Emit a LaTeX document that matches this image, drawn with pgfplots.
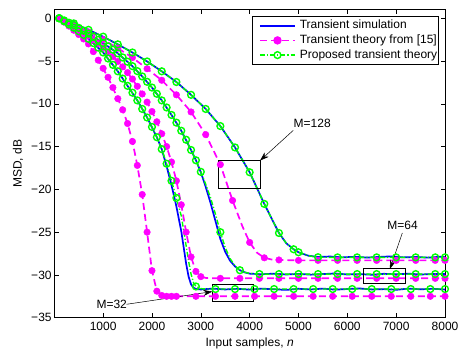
\documentclass[border=0pt]{standalone}
\usepackage{fontspec}
\setmainfont{Liberation Sans}
\usepackage{pgfplots}
\pgfplotsset{compat=1.18}
\usetikzlibrary{arrows.meta}
\definecolor{sblue}{rgb}{0,0,1}
\definecolor{smag}{rgb}{1,0,1}
\definecolor{sgreen}{rgb}{0,1,0}
\newcommand{\fs}{\fontsize{12}{14}\selectfont}
\tikzset{
  simline/.style={sblue, line width=1.7pt},
  oldline/.style={smag, line width=1.7pt, dash pattern=on 7pt off 4pt},
  oldmark/.style={smag, only marks, mark=*, mark size=3.3pt, mark options={solid, fill=smag, draw=smag}},
  newline/.style={sgreen, line width=1.4pt, dash pattern=on 5pt off 2pt on 1.2pt off 2pt},
  newmark/.style={sgreen, only marks, mark=o, mark size=3.4pt, mark options={solid, line width=1.4pt}},
}
\begin{document}
\fs
\begin{tikzpicture}
\begin{axis}[
  at={(0,0)}, anchor=south west,
  scale only axis, width=390.7pt, height=308pt,
  xmin=0, xmax=8000, ymin=-35, ymax=1,
  xtick={1000,2000,3000,4000,5000,6000,7000,8000},
  xticklabels={1000,2000,3000,4000,5000,6000,7000,8000},
  ytick={-35,-30,-25,-20,-15,-10,-5,0},
  yticklabels={−35,−30,−25,−20,−15,−10,−5,0},
  tick align=inside, major tick length=4.5pt,
  tick style={black, line width=0.5pt},
  axis line style={black, line width=0.6pt},
  ticklabel style={font=\fs},
  yticklabel style={inner xsep=2.5pt},
  xlabel={Input samples, \textit{n}}, ylabel={MSD, dB},
  label style={font=\fs},
  xlabel style={at={(axis description cs:0.5,-0.082)}, anchor=center},
  ylabel style={at={(axis description cs:-0.093,0.5)}, anchor=center},
  legend style={at={(rel axis cs:1,1)}, anchor=north east, xshift=-5.7pt, yshift=-6.3pt,
    draw=black, line width=0.9pt, font=\fs,
    inner xsep=0.6pt, inner ysep=2.4pt, row sep=1pt,
    nodes={inner sep=1pt, text height=9pt, text depth=2.7pt},
    /tikz/every odd column/.append style={column sep=3pt}},
  legend cell align=left,
  legend image code/.code={\path (-6pt,0pt); \draw[mark repeat=2,mark phase=2,#1] plot coordinates {(0pt,0pt) (17.5pt,0pt) (35pt,0pt)};},
]
% ---------- simulation (blue) ----------
\addplot[simline, forget plot] coordinates {
(100,0) (400,-0.6) (700,-1.35) (1000,-2.15) (1300,-3.05) (1600,-4.0) (1900,-5.05) (2200,-6.2) (2500,-7.45) (2800,-8.95) (3100,-10.6) (3400,-12.6) (3700,-15.1) (4000,-18.0) (4300,-21.7) (4600,-25.1) (4750,-26.3) (4900,-27.0) (5000,-27.35) (5200,-27.75) (5400,-27.9) (5650,-27.85) (5900,-27.95) (6150,-27.88) (6400,-27.97) (6650,-27.9) (6900,-27.83) (7150,-27.95) (7400,-27.9) (7650,-27.98) (7900,-27.88) (8000,-27.92)};
\addplot[simline, forget plot] coordinates {
(100,0) (400,-0.8) (700,-1.8) (1000,-2.9) (1300,-4.1) (1600,-5.6) (1800,-6.8) (2000,-8.1) (2200,-9.6) (2400,-11.3) (2600,-13.15) (2800,-15.4) (2900,-16.6) (3000,-18.0) (3100,-19.7) (3200,-21.6) (3300,-23.7) (3400,-25.8) (3500,-27.3) (3600,-28.35) (3700,-29.0) (3800,-29.45) (3900,-29.7) (4000,-29.85) (4250,-29.92) (4500,-29.85) (4750,-29.95) (5000,-29.88) (5250,-29.97) (5500,-29.9) (5750,-29.83) (6000,-29.95) (6250,-29.9) (6500,-29.98) (6750,-29.87) (7000,-29.93) (7250,-29.85) (7500,-29.95) (7750,-29.9) (8000,-29.88)};
\addplot[simline, forget plot] coordinates {
(100,0) (400,-1.1) (700,-2.4) (1000,-4.0) (1300,-6.2) (1500,-7.9) (1700,-9.6) (1900,-11.6) (2100,-13.9) (2200,-15.3) (2300,-17.3) (2400,-19.5) (2500,-22.0) (2600,-24.9) (2700,-28.7) (2750,-30.2) (2800,-31.1) (2850,-31.5) (2900,-31.65) (3000,-31.7) (3250,-31.6) (3500,-31.7) (3750,-31.62) (4000,-31.72) (4250,-31.6) (4500,-31.68) (4750,-31.75) (5000,-31.62) (5250,-31.7) (5500,-31.6) (5750,-31.72) (6000,-31.65) (6250,-31.58) (6500,-31.7) (6750,-31.66) (7000,-31.74) (7250,-31.6) (7500,-31.68) (7750,-31.62) (8000,-31.7)};
% ---------- theory from [15] (magenta) ----------
\addplot[oldline, forget plot] coordinates {
(100,0) (400,-0.7) (700,-1.6) (1000,-2.5) (1300,-3.5) (1600,-4.6) (1900,-5.9) (2200,-7.25) (2500,-8.95) (2800,-10.95) (3100,-13.6) (3400,-17.1) (3650,-21.3) (3850,-24.3) (4000,-26.2) (4150,-27.4) (4300,-28.0) (4450,-28.2) (4600,-28.25) (5000,-28.3) (8000,-28.3)};
\addplot[oldmark, forget plot] coordinates {
(100,0) (400,-0.7) (700,-1.6) (1000,-2.5) (1300,-3.5) (1600,-4.6) (1900,-5.9) (2200,-7.25) (2500,-8.95) (2800,-10.95) (3100,-13.6) (3400,-17.1) (3650,-21.3) (4000,-26.2) (4300,-28.0) (4600,-28.25) (5000,-28.3) (5400,-28.3) (5800,-28.3) (6200,-28.3) (6600,-28.3) (7000,-28.3) (7400,-28.3) (7800,-28.3) (8000,-28.3)};
\addplot[oldline, forget plot] coordinates {
(100,0) (400,-0.95) (700,-2.08) (1000,-3.42) (1300,-5.05) (1500,-6.35) (1700,-7.95) (1800,-8.85) (1900,-9.8) (2000,-10.9) (2100,-12.1) (2200,-13.5) (2300,-15.0) (2400,-16.8) (2500,-19.0) (2600,-21.8) (2700,-25.0) (2800,-27.9) (2900,-29.6) (3000,-30.2) (3100,-30.35) (3200,-30.4) (8000,-30.4)};
\addplot[oldmark, forget plot] coordinates {
(100,0) (200,-0.3) (300,-0.62) (400,-0.95) (500,-1.3) (600,-1.68) (700,-2.08) (800,-2.5) (900,-2.95) (1000,-3.42) (1100,-3.92) (1200,-4.47) (1300,-5.05) (1400,-5.68) (1500,-6.35) (1600,-7.1) (1700,-7.95) (1800,-8.85) (1900,-9.8) (2000,-10.9) (2100,-12.1) (2200,-13.5) (2300,-15.0) (2400,-16.8) (2500,-19.0) (2600,-21.8) (2700,-25.0) (2800,-27.9) (2900,-29.6) (3000,-30.2) (3400,-30.4) (3800,-30.4) (4200,-30.4) (4600,-30.4) (5000,-30.4) (5400,-30.4) (5800,-30.4) (6200,-30.4) (6600,-30.4) (7000,-30.4) (7400,-30.4) (7800,-30.4) (8000,-30.4)};
\addplot[oldline, forget plot] coordinates {
(100,0) (300,-0.92) (500,-1.9) (700,-3.0) (900,-4.9) (1100,-6.9) (1300,-9.4) (1400,-10.7) (1500,-12.3) (1600,-14.4) (1700,-17.2) (1800,-20.6) (1900,-25.0) (2000,-29.5) (2100,-31.9) (2200,-32.4) (2300,-32.5) (8000,-32.5)};
\addplot[oldmark, forget plot] coordinates {
(100,0) (200,-0.45) (300,-0.92) (400,-1.4) (500,-1.9) (600,-2.42) (700,-3.0) (800,-3.9) (900,-4.9) (1000,-5.85) (1100,-6.9) (1200,-8.1) (1300,-9.4) (1400,-10.7) (1500,-12.3) (1600,-14.4) (1700,-17.2) (1800,-20.6) (1900,-25.0) (2000,-29.5) (2100,-31.9) (2200,-32.4) (2300,-32.5) (2400,-32.5) (2500,-32.5) (2900,-32.5) (3300,-32.5) (3700,-32.5) (4100,-32.5) (4500,-32.5) (4900,-32.5) (5300,-32.5) (5700,-32.5) (6100,-32.5) (6500,-32.5) (6900,-32.5) (7300,-32.5) (7700,-32.5) (8000,-32.5)};
% ---------- proposed theory (green) ----------
\addplot[newline, forget plot] coordinates {
(100,0) (400,-0.6) (700,-1.35) (1000,-2.15) (1300,-3.05) (1600,-4.0) (1900,-5.05) (2200,-6.2) (2500,-7.45) (2800,-8.95) (3100,-10.6) (3400,-12.6) (3700,-15.1) (4000,-18.0) (4300,-21.7) (4600,-25.1) (4750,-26.3) (4900,-27.0) (5000,-27.35) (5200,-27.75) (5400,-27.93) (5800,-27.95) (8000,-27.95)};
\addplot[newmark, forget plot] coordinates {
(100,0) (400,-0.6) (700,-1.35) (1000,-2.15) (1300,-3.05) (1600,-4.0) (1900,-5.05) (2200,-6.2) (2500,-7.45) (2800,-8.95) (3100,-10.6) (3400,-12.6) (3700,-15.1) (4000,-18.0) (4300,-21.7) (4600,-25.1) (4900,-27.0) (5000,-27.35) (5400,-27.93) (5800,-27.95) (6200,-27.95) (6600,-27.95) (7000,-27.95) (7400,-27.95) (7800,-27.95) (8000,-27.95)};
\addplot[newline, forget plot] coordinates {
(100,0) (400,-0.8) (700,-1.8) (1000,-2.9) (1300,-4.1) (1600,-5.6) (1800,-6.8) (2000,-8.1) (2200,-9.6) (2400,-11.3) (2600,-13.15) (2800,-15.4) (2900,-16.6) (3000,-17.95) (3100,-19.4) (3200,-21.0) (3300,-22.9) (3400,-25.0) (3500,-26.8) (3600,-28.1) (3700,-28.95) (3800,-29.45) (3900,-29.7) (4000,-29.82) (4200,-29.9) (8000,-29.9)};
\addplot[newmark, forget plot] coordinates {
(100,0) (200,-0.25) (300,-0.52) (400,-0.8) (500,-1.12) (600,-1.45) (700,-1.8) (800,-2.15) (900,-2.52) (1000,-2.9) (1100,-3.28) (1200,-3.68) (1300,-4.1) (1400,-4.58) (1500,-5.08) (1600,-5.6) (1700,-6.18) (1800,-6.8) (1900,-7.43) (2000,-8.1) (2100,-8.83) (2200,-9.6) (2300,-10.43) (2400,-11.3) (2500,-12.2) (2600,-13.15) (2700,-14.2) (2800,-15.4) (2900,-16.6) (3000,-17.95) (3400,-25.0) (3800,-29.45) (4200,-29.9) (4600,-29.9) (5000,-29.9) (5400,-29.9) (5800,-29.9) (6200,-29.9) (6600,-29.9) (7000,-29.9) (7400,-29.9) (7800,-29.9) (8000,-29.9)};
\addplot[newline, forget plot] coordinates {
(100,0) (400,-1.1) (700,-2.4) (1000,-4.0) (1300,-6.2) (1500,-7.9) (1700,-9.6) (1900,-11.6) (2100,-13.9) (2200,-15.3) (2300,-17.0) (2400,-19.0) (2500,-21.0) (2600,-23.1) (2700,-26.6) (2750,-28.4) (2800,-29.9) (2850,-30.9) (2900,-31.35) (3000,-31.6) (3100,-31.65) (8000,-31.65)};
\addplot[newmark, forget plot] coordinates {
(100,0) (200,-0.35) (300,-0.72) (400,-1.1) (500,-1.52) (600,-1.95) (700,-2.4) (800,-2.9) (900,-3.43) (1000,-4.0) (1100,-4.7) (1200,-5.45) (1300,-6.2) (1400,-7.05) (1500,-7.9) (1600,-8.7) (1700,-9.6) (1800,-10.6) (1900,-11.6) (2000,-12.7) (2100,-13.9) (2200,-15.3) (2300,-17.0) (2400,-19.0) (2500,-21.0) (2900,-31.35) (3300,-31.65) (3700,-31.65) (4100,-31.65) (4500,-31.65) (4900,-31.65) (5300,-31.65) (5700,-31.65) (6100,-31.65) (6500,-31.65) (6900,-31.65) (7300,-31.65) (7700,-31.65) (8000,-31.65)};
% ---------- legend ----------
\addlegendimage{simline}
\addlegendimage{oldline, mark=*, mark size=3.3pt, mark options={solid, fill=smag}}
\addlegendimage{newline, mark=o, mark size=3.4pt, mark options={solid, line width=1.4pt}}
\legend{Transient simulation, Transient theory from [15], Proposed transient theory}
% ---------- annotations ----------
\draw[black, line width=0.5pt] (axis cs:3360,-16.6) rectangle (axis cs:4210,-19.9);
\draw[black, line width=0.5pt, -{Stealth[length=9pt,width=6pt]}] (axis cs:4894,-13.1) -- (axis cs:4212,-16.64);
\node[font=\fs] at (axis cs:5281,-12.3) {M=128};
\draw[black, line width=0.5pt] (axis cs:6327,-29.26) rectangle (axis cs:7181,-30.97);
\draw[black, line width=0.5pt, -{Stealth[length=9pt,width=6pt]}] (axis cs:7126,-25.1) -- (axis cs:6873,-29.3);
\node[font=\fs] at (axis cs:7133,-24.26) {M=64};
\draw[black, line width=0.5pt] (axis cs:3235,-31.09) rectangle (axis cs:4075,-33.04);
\draw[black, line width=0.5pt, -{Stealth[length=9pt,width=6pt]}] (axis cs:1482,-33.43) -- (axis cs:3235,-31.95);
\node[font=\fs] at (axis cs:1175,-33.4) {M=32};
\end{axis}
\pgfresetboundingbox
\useasboundingbox (-54.3pt,-35.3pt) rectangle (407.7pt,317.7pt);
\end{tikzpicture}
\end{document}
